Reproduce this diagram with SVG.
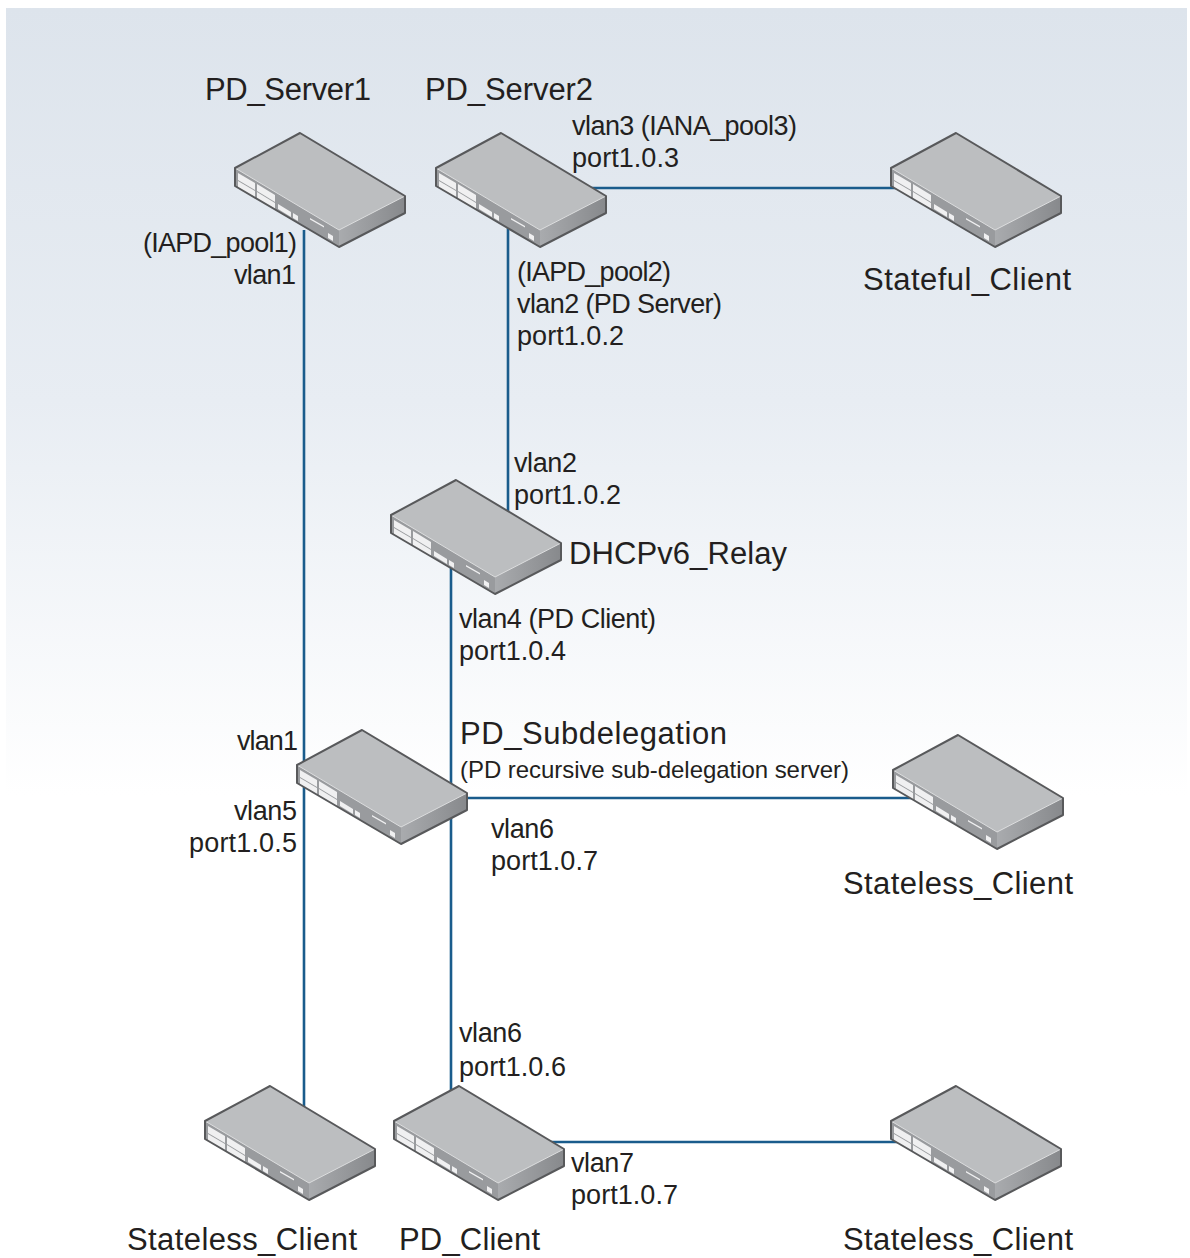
<svg xmlns="http://www.w3.org/2000/svg" width="1190" height="1258" viewBox="0 0 1190 1258">
<style>
text{font-family:"Liberation Sans",Arial,sans-serif;fill:#231f20}
.n{font-size:31px}
.l{font-size:27px}
.s{font-size:24px}
.c{fill:none;stroke:#1a5c8c;stroke-width:2.600}
</style>
<defs>
<linearGradient id="bg" x1="0" y1="0" x2="0" y2="1">
<stop offset="0" stop-color="#dde4ec"/>
<stop offset="0.5" stop-color="#e8edf3"/>
<stop offset="1" stop-color="#ffffff"/>
</linearGradient>
<linearGradient id="side" x1="0" y1="0" x2="1" y2="0">
<stop offset="0" stop-color="#a9abae"/>
<stop offset="1" stop-color="#87898c"/>
</linearGradient>
<g id="sw">
<path d="M0 0L105 63V80L39 114L-65 53V35Z" fill="#bcbec0"/>
<path d="M-65 35L39 97V114L-65 53Z" fill="#999b9e"/>
<path d="M39 97L105 63V80L39 114Z" fill="url(#side)"/>
<path d="M-65 35L39 97L105 63" fill="none" stroke="#dcddde" stroke-width="1"/>
<g fill="#f0f0f1">
<path d="M-62 40L-45 50V57L-62 47Z"/><path d="M-62 48L-45 58V65L-62 55Z"/>
<path d="M-43 51L-25 62V69L-43 58Z"/><path d="M-43 59L-25 70V77L-43 66Z"/>
<path d="M-22 71L-9 79V84L-22 76Z"/><path d="M-7 80L-2 83V88L-7 85Z"/>
<path d="M10 85L24 93V94.500L10 86.500Z"/><path d="M28 100L33 103V108L28 105Z"/>
</g>
<path d="M0 0L105 63V80L39 114L-65 53V35Z" fill="none" stroke="#58595b" stroke-width="2" stroke-linejoin="round"/>
</g>
</defs>
<rect id="background" x="6" y="8" width="1181" height="787" fill="url(#bg)"/>
<g id="connectors">
<path class="c" d="M304 230V1110"/>
<path class="c" d="M508 220V515"/>
<path class="c" d="M585 188H905"/>
<path class="c" d="M451 565V1090"/>
<path class="c" d="M460 798H915"/>
<path class="c" d="M550 1142H905"/>
</g>
<g id="pd-server1"><use href="#sw" x="300" y="133"/><text class="n" x="205" y="100" textLength="166">PD_Server1</text><text class="l" x="143" y="252" textLength="154">(IAPD_pool1)</text><text class="l" x="234" y="284" textLength="62">vlan1</text></g>
<g id="pd-server2"><use href="#sw" x="501" y="133"/><text class="n" x="425" y="100" textLength="168">PD_Server2</text><text class="l" x="572" y="135" textLength="225">vlan3 (IANA_pool3)</text><text class="l" x="572" y="167" textLength="107">port1.0.3</text><text class="l" x="517" y="281" textLength="154">(IAPD_pool2)</text><text class="l" x="517" y="313" textLength="205">vlan2 (PD Server)</text><text class="l" x="517" y="345" textLength="107">port1.0.2</text></g>
<g id="stateful-client"><use href="#sw" x="956" y="133"/><text class="n" x="863" y="290" textLength="208">Stateful_Client</text></g>
<g id="dhcpv6-relay"><use href="#sw" x="456" y="480"/><text class="n" x="569" y="564" textLength="218">DHCPv6_Relay</text><text class="l" x="514" y="472" textLength="63">vlan2</text><text class="l" x="514" y="504" textLength="107">port1.0.2</text><text class="l" x="459" y="628" textLength="197">vlan4 (PD Client)</text><text class="l" x="459" y="660" textLength="107">port1.0.4</text></g>
<g id="pd-subdelegation"><use href="#sw" x="362" y="730"/><text class="n" x="460" y="744" textLength="267">PD_Subdelegation</text><text class="s" x="460" y="778" textLength="389">(PD recursive sub-delegation server)</text><text class="l" x="237" y="750" textLength="61">vlan1</text><text class="l" x="234" y="820" textLength="63">vlan5</text><text class="l" x="189" y="852" textLength="108">port1.0.5</text><text class="l" x="491" y="838" textLength="63">vlan6</text><text class="l" x="491" y="870" textLength="107">port1.0.7</text></g>
<g id="stateless-client-1"><use href="#sw" x="958" y="735"/><text class="n" x="843" y="894" textLength="230">Stateless_Client</text></g>
<g id="stateless-client-2"><use href="#sw" x="270" y="1086"/><text class="n" x="127" y="1250" textLength="230">Stateless_Client</text></g>
<g id="pd-client"><use href="#sw" x="459" y="1086"/><text class="n" x="399" y="1250" textLength="141">PD_Client</text><text class="l" x="459" y="1042" textLength="63">vlan6</text><text class="l" x="459" y="1076" textLength="107">port1.0.6</text><text class="l" x="571" y="1172" textLength="63">vlan7</text><text class="l" x="571" y="1204" textLength="107">port1.0.7</text></g>
<g id="stateless-client-3"><use href="#sw" x="956" y="1086"/><text class="n" x="843" y="1250" textLength="230">Stateless_Client</text></g>
</svg>
